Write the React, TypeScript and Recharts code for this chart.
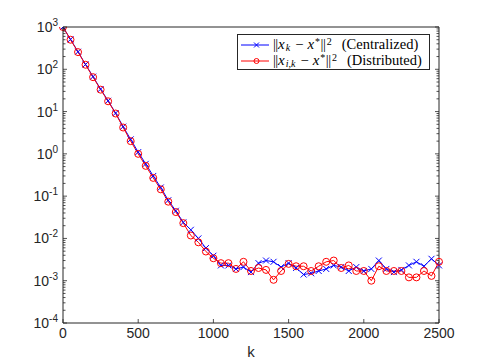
import { LineChart, Line, XAxis, YAxis, Legend } from "recharts";

const kValues = [
  0, 50, 100, 150, 200, 250, 300, 350, 400, 450, 500, 550, 600, 650, 700, 750,
  800, 850, 900, 950, 1000, 1050, 1100, 1150, 1200, 1250, 1300, 1350, 1400,
  1450, 1500, 1550, 1600, 1650, 1700, 1750, 1800, 1850, 1900, 1950, 2000, 2050,
  2100, 2150, 2200, 2250, 2300, 2350, 2400, 2450, 2500,
];

const centralized = [
  1000, 510, 260, 130, 67, 34, 18, 9.2, 4.4, 2.2, 1.1, 0.58, 0.3, 0.16, 0.08,
  0.045, 0.024, 0.016, 0.01, 0.0059, 0.0039, 0.0023, 0.0023, 0.0019, 0.0021,
  0.0016, 0.0026, 0.003, 0.0028, 0.0021, 0.0026, 0.002, 0.0014, 0.0015, 0.0017,
  0.0019, 0.0023, 0.0021, 0.0017, 0.0021, 0.0017, 0.0019, 0.003, 0.0019,
  0.0016, 0.0018, 0.0023, 0.0028, 0.0022, 0.0033, 0.0023,
];

const distributed = [
  1000, 500, 255, 128, 65, 33, 17.5, 9, 4.2, 2.0, 1.0, 0.52, 0.27, 0.145,
  0.074, 0.042, 0.023, 0.0117, 0.0081, 0.0049, 0.0034, 0.0026, 0.0026, 0.0019,
  0.0028, 0.0017, 0.002, 0.0018, 0.00105, 0.0017, 0.0025, 0.0022, 0.0022,
  0.0017, 0.0022, 0.0028, 0.003, 0.002, 0.0023, 0.0017, 0.0017, 0.001, 0.0022,
  0.0017, 0.0017, 0.0017, 0.0012, 0.0012, 0.0017, 0.0013, 0.0028,
];

const xTicks = [0, 500, 1000, 1500, 2000, 2500];
const decades = [1e-4, 1e-3, 1e-2, 1e-1, 1, 10, 100, 1000];
const seriesNames = ["Centralized", "Distributed"];
const seriesSubs = ["k", "i,k"];
const seriesColors = ["#0000ff", "#ff0000"];

const data = kValues.map((k, i) => ({
  k,
  centralized: centralized[i],
  distributed: distributed[i],
}));

// minor ticks 2..9 inside each decade, plus the decades themselves
const yTicks = decades.flatMap((d) =>
  d === 1000 ? [d] : [1, 2, 3, 4, 5, 6, 7, 8, 9].map((m) => m * d)
);

const AXIS = "#262626";
const LABEL_FONT = '"Liberation Sans", Arial, sans-serif';

const isMajor = (v: number) => {
  const lg = Math.log10(v);
  return Math.abs(lg - Math.round(lg)) < 1e-6;
};

const LeftTick = (props: any) => {
  const { x, y, payload } = props;
  const major = isMajor(payload.value);
  const exp = Math.round(Math.log10(payload.value));
  return (
    <g>
      <line x1={x} x2={x + (major ? 4 : 2.5)} y1={y} y2={y} stroke={AXIS} strokeWidth={0.8} />
      {major && (
        <text x={x - 5} y={y + 5} textAnchor="end" fill={AXIS} fontSize={14} fontFamily={LABEL_FONT}>
          10
          <tspan dy={-6} fontSize={10}>
            {exp}
          </tspan>
        </text>
      )}
    </g>
  );
};

const RightTick = (props: any) => {
  const { x, y, payload } = props;
  const major = isMajor(payload.value);
  return <line x1={x} x2={x - (major ? 4 : 2.5)} y1={y} y2={y} stroke={AXIS} strokeWidth={0.8} />;
};

const BottomTick = (props: any) => {
  const { x, y, payload } = props;
  return (
    <g>
      <line x1={x} x2={x} y1={y} y2={y - 4} stroke={AXIS} strokeWidth={0.8} />
      <text x={x} y={y + 15} textAnchor="middle" fill={AXIS} fontSize={14} fontFamily={LABEL_FONT}>
        {payload.value}
      </text>
    </g>
  );
};

const TopTick = (props: any) => {
  const { x, y } = props;
  return <line x1={x} x2={x} y1={y} y2={y + 4} stroke={AXIS} strokeWidth={0.8} />;
};

const CrossDot = (props: any) => {
  const { cx, cy, index } = props;
  if (cx == null || cy == null) return <g key={index} />;
  const s = 3;
  return (
    <g key={index}>
      <line x1={cx - s} y1={cy - s} x2={cx + s} y2={cy + s} stroke="#0000ff" strokeWidth={1} />
      <line x1={cx - s} y1={cy + s} x2={cx + s} y2={cy - s} stroke="#0000ff" strokeWidth={1} />
    </g>
  );
};

const piece = (extra: any) => ({ display: "inline-block", position: "relative" as const, ...extra });
const small = { fontSize: 10, lineHeight: "7px" };

const LegendBox = () => (
  <div
    style={{
      width: 193,
      height: 36,
      border: `1px solid ${AXIS}`,
      background: "#fff",
      boxSizing: "border-box",
      position: "relative",
      fontFamily: '"Liberation Serif", "DejaVu Serif", serif',
      fontSize: 14.5,
      color: "#000",
    }}
  >
    {seriesNames.map((name, i) => (
      <div
        key={name}
        style={{
          position: "absolute",
          left: 3,
          top: i === 0 ? 1.5 : 17.5,
          height: 16,
          display: "flex",
          alignItems: "center",
          whiteSpace: "nowrap",
        }}
      >
        <svg width={29} height={10} style={{ marginRight: 3 }}>
          <line x1={0} x2={28} y1={5} y2={5} stroke={seriesColors[i]} strokeWidth={1} />
          {i === 0 ? (
            <g stroke={seriesColors[i]} strokeWidth={1}>
              <line x1={13} y1={2.5} x2={18} y2={7.5} />
              <line x1={13} y1={7.5} x2={18} y2={2.5} />
            </g>
          ) : (
            <circle cx={15.5} cy={5} r={2.5} stroke={seriesColors[i]} fill="none" strokeWidth={1} />
          )}
        </svg>
        <span style={{ lineHeight: "11px", display: "inline-block" }}>
          <span style={piece({ letterSpacing: -0.6, marginRight: 0.5 })}>||</span>
          <span style={piece({ fontStyle: "italic", fontSize: 15, marginRight: 1 })}>x</span>
          <span style={piece({ ...small, fontStyle: "italic", top: 2, marginRight: 5 })}>{seriesSubs[i]}</span>
          <span style={piece({ marginRight: 4 })}>−</span>
          <span style={piece({ fontStyle: "italic", fontSize: 15, marginRight: 1 })}>x</span>
          <span style={piece({ ...small, top: -4, marginRight: 0.5 })}>*</span>
          <span style={piece({ letterSpacing: -0.6, marginRight: 1.5 })}>||</span>
          <span style={piece({ ...small, top: -4, marginRight: 10 })}>2</span>
          <span style={piece({})}>({name})</span>
        </span>
      </div>
    ))}
  </div>
);

export default function App() {
  return (
    <div style={{ position: "absolute", left: 0, top: 0, width: 485, height: 363, background: "#fff" }}>
      <LineChart width={485} height={363} data={data} margin={{ top: 26, right: 45, bottom: 0, left: 0 }}>
        <XAxis
          dataKey="k"
          type="number"
          domain={[0, 2500]}
          ticks={xTicks}
          interval={0}
          tickSize={0}
          tickMargin={0}
          height={40}
          tick={<BottomTick />}
          axisLine={{ stroke: AXIS, strokeWidth: 1 }}
          label={{ value: "k", position: "insideBottom", offset: 6, fill: AXIS, fontSize: 15, fontFamily: LABEL_FONT }}
        />
        <XAxis
          xAxisId="top"
          orientation="top"
          type="number"
          domain={[0, 2500]}
          ticks={xTicks}
          interval={0}
          tickSize={0}
          tickMargin={0}
          height={1}
          tick={<TopTick />}
          axisLine={{ stroke: AXIS, strokeWidth: 1 }}
        />
        <YAxis
          scale="log"
          type="number"
          domain={[1e-4, 1000]}
          allowDataOverflow
          ticks={yTicks}
          interval={0}
          tickSize={0}
          tickMargin={0}
          width={63}
          tick={<LeftTick />}
          axisLine={{ stroke: AXIS, strokeWidth: 1 }}
        />
        <YAxis
          yAxisId="right"
          orientation="right"
          scale="log"
          type="number"
          domain={[1e-4, 1000]}
          allowDataOverflow
          ticks={yTicks}
          interval={0}
          tickSize={0}
          tickMargin={0}
          width={1}
          tick={<RightTick />}
          axisLine={{ stroke: AXIS, strokeWidth: 1 }}
        />
        <Legend
          layout="vertical"
          align="center"
          verticalAlign="middle"
          content={<LegendBox />}
          wrapperStyle={{ left: 237, top: 34, width: 193, height: 36 }}
        />
        <Line
          type="linear"
          dataKey="centralized"
          name={seriesNames[0]}
          stroke={seriesColors[0]}
          strokeWidth={1}
          dot={<CrossDot />}
          activeDot={false}
          isAnimationActive={false}
        />
        <Line
          type="linear"
          dataKey="distributed"
          name={seriesNames[1]}
          stroke={seriesColors[1]}
          strokeWidth={1}
          dot={{ r: 3.5, stroke: seriesColors[1], fill: "none", strokeWidth: 1 }}
          activeDot={false}
          isAnimationActive={false}
        />
      </LineChart>
    </div>
  );
}
